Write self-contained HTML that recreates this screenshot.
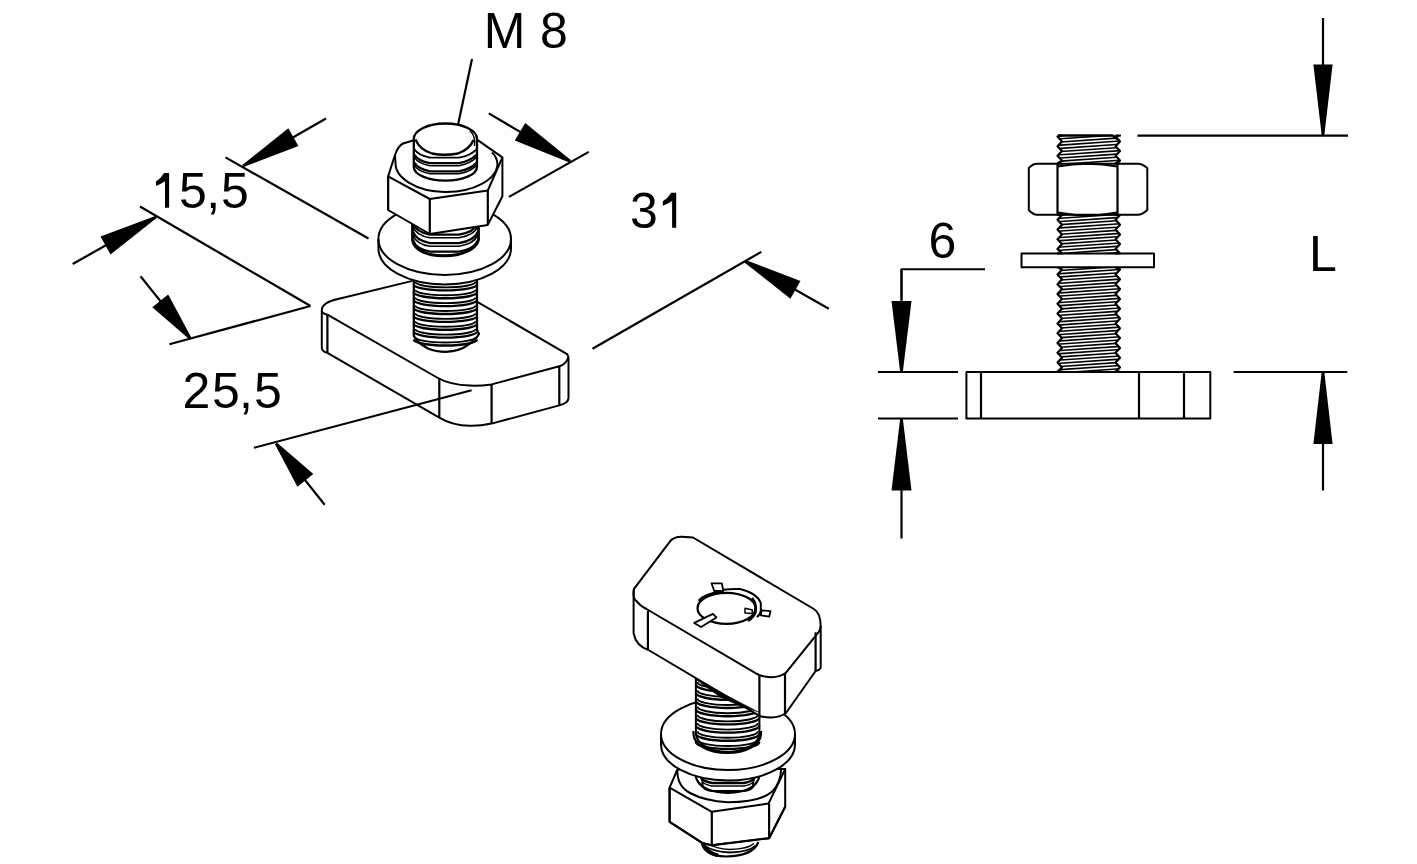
<!DOCTYPE html>
<html><head><meta charset="utf-8"><style>
html,body{margin:0;padding:0;background:#fff;}
svg{display:block;font-family:"Liberation Sans",sans-serif;}
</style></head><body>
<svg width="1417" height="864" viewBox="0 0 1417 864" stroke="#000" fill="none" stroke-linecap="butt" stroke-linejoin="round">
<text x="483.8" y="48" font-size="50" stroke="none" fill="#000">M</text>
<text x="540.1" y="48" font-size="50" stroke="none" fill="#000">8</text>
<text x="179" y="208" font-size="50" stroke="none" fill="#000">5</text>
<text x="206.2" y="208" font-size="50" stroke="none" fill="#000">,</text>
<text x="221" y="208" font-size="50" stroke="none" fill="#000">5</text>
<text x="182.4" y="408" font-size="50" stroke="none" fill="#000">2</text>
<text x="211.9" y="408" font-size="50" stroke="none" fill="#000">5</text>
<text x="239" y="408" font-size="50" stroke="none" fill="#000">,</text>
<text x="253.9" y="408" font-size="50" stroke="none" fill="#000">5</text>
<text x="629.9" y="228" font-size="50" stroke="none" fill="#000">3</text>
<text x="928.5" y="258" font-size="50" stroke="none" fill="#000">6</text>
<text x="1309" y="271" font-size="50" stroke="none" fill="#000">L</text>
<path d="M169.1,173.1 L169.1,207.7 L165.0,207.7 L165.0,181.2 Q160,184.5 156,185.9 L156,181.4 Q161.1,178.3 164.1,173.1 Z" stroke="none" fill="#000"/>
<path d="M676.2,192.8 L676.2,227.8 L672.1,227.8 L672.1,201.0 Q666.8,204.4 662.8,205.8 L662.8,201.2 Q668.2,198.1 671.2,192.8 Z" stroke="none" fill="#000"/>
<line x1="326" y1="118.5" x2="243" y2="166" stroke-width="2.2"/>
<polygon points="243.6,167.1 298.4,146.0 288.3,128.3 242.4,164.9" stroke="none" fill="#000"/>
<line x1="225.5" y1="157.4" x2="368.5" y2="238.5" stroke-width="2.2"/>
<line x1="72.7" y1="264" x2="156" y2="217" stroke-width="2.2"/>
<polygon points="155.4,215.9 100.5,236.6 110.5,254.4 156.6,218.1" stroke="none" fill="#000"/>
<line x1="140" y1="206.5" x2="310.5" y2="306" stroke-width="2.2"/>
<line x1="310.5" y1="306" x2="169.4" y2="344.2" stroke-width="2.2"/>
<line x1="140.5" y1="276.3" x2="190.3" y2="338.4" stroke-width="2.2"/>
<polygon points="191.3,337.6 168.2,294.6 152.3,307.3 189.3,339.2" stroke="none" fill="#000"/>
<line x1="324.7" y1="504.7" x2="276.1" y2="443.6" stroke-width="2.2"/>
<polygon points="275.1,444.4 297.4,486.7 313.3,474.0 277.1,442.8" stroke="none" fill="#000"/>
<line x1="488.8" y1="113.4" x2="570" y2="161.2" stroke-width="2.2"/>
<polygon points="570.7,160.1 525.2,123.0 514.8,140.6 569.3,162.4" stroke="none" fill="#000"/>
<line x1="509" y1="196.9" x2="588.75" y2="151.9" stroke-width="2.2"/>
<line x1="828.8" y1="308.8" x2="745" y2="261.2" stroke-width="2.2"/>
<polygon points="744.4,262.4 790.4,298.7 800.5,281.0 745.6,260.1" stroke="none" fill="#000"/>
<line x1="592.5" y1="348.75" x2="761.25" y2="251.9" stroke-width="2.2"/>
<line x1="472" y1="59" x2="458" y2="125" stroke-width="2.2"/>
<path d="M412.4,280.9 L338,299 Q323,302 321.8,309.5 L321.8,347.7 Q322,351.5 327.4,352.9 L438.4,417.1 Q452,425.5 470,425.8 Q480,426 491.6,423.6 L559.3,405.4 Q568.5,403 568.5,398 L568.5,358 Q568.3,355.5 567.1,354.2 L477.7,302.1" stroke-width="2" fill="#fff"/>
<path d="M321.8,311.2 Q322.5,313.5 327.4,314.7 L437,377.5 Q450,385 470,385.6 Q480,386 491.6,384.4 L559.3,366.2 Q566,364.5 568.5,357" stroke-width="2" fill="none"/>
<line x1="327.4" y1="314.7" x2="327.4" y2="352.9" stroke-width="2.2"/>
<line x1="439.3" y1="379" x2="439.3" y2="417.6" stroke-width="2.2"/>
<line x1="491.6" y1="384.9" x2="491.6" y2="423.6" stroke-width="2.2"/>
<line x1="559.3" y1="366.2" x2="559.3" y2="405.4" stroke-width="2.2"/>
<line x1="253.9" y1="447.8" x2="471.6" y2="390.3" stroke-width="2.2"/>
<path d="M413.8,270 L413.8,335.6 Q415.8,342 428,348.5 Q436,351.8 445.7,351.8 Q460,351 468,344.8 Q476,340 479,333.7 L477,330 L477,270 Z" stroke-width="2.3" fill="#fff"/>
<path d="M413.8,339.5 A31.6,6 0 0 0 477,339.5" stroke-width="2.4" fill="none"/>
<path d="M415.3,336.9 A30,5.6 0 0 0 475.5,336.9" stroke-width="1.9" fill="none"/>
<path d="M413.8,331.6 A31.6,6 0 0 0 477,331.6" stroke-width="2.4" fill="none"/>
<path d="M415.3,329.0 A30,5.6 0 0 0 475.5,329.0" stroke-width="1.9" fill="none"/>
<path d="M413.8,323.8 A31.6,6 0 0 0 477,323.8" stroke-width="2.4" fill="none"/>
<path d="M415.3,321.2 A30,5.6 0 0 0 475.5,321.2" stroke-width="1.9" fill="none"/>
<path d="M413.8,315.9 A31.6,6 0 0 0 477,315.9" stroke-width="2.4" fill="none"/>
<path d="M415.3,313.3 A30,5.6 0 0 0 475.5,313.3" stroke-width="1.9" fill="none"/>
<path d="M413.8,308.0 A31.6,6 0 0 0 477,308.0" stroke-width="2.4" fill="none"/>
<path d="M415.3,305.4 A30,5.6 0 0 0 475.5,305.4" stroke-width="1.9" fill="none"/>
<path d="M413.8,300.1 A31.6,6 0 0 0 477,300.1" stroke-width="2.4" fill="none"/>
<path d="M415.3,297.5 A30,5.6 0 0 0 475.5,297.5" stroke-width="1.9" fill="none"/>
<path d="M413.8,292.3 A31.6,6 0 0 0 477,292.3" stroke-width="2.4" fill="none"/>
<path d="M415.3,289.7 A30,5.6 0 0 0 475.5,289.7" stroke-width="1.9" fill="none"/>
<path d="M413.8,284.4 A31.6,6 0 0 0 477,284.4" stroke-width="2.4" fill="none"/>
<path d="M415.3,281.8 A30,5.6 0 0 0 475.5,281.8" stroke-width="1.9" fill="none"/>
<path d="M413.8,276.5 A31.6,6 0 0 0 477,276.5" stroke-width="2.4" fill="none"/>
<path d="M415.3,273.9 A30,5.6 0 0 0 475.5,273.9" stroke-width="1.9" fill="none"/>
<path d="M378.4,239 A66.3,36 0 0 1 511.0,239 L511.0,248.5 A66.3,36 0 0 1 378.4,248.5 Z" stroke-width="2" fill="#fff"/>
<path d="M378.4,239 A66.3,36 0 0 0 511.0,239" stroke-width="2" fill="none"/>
<path d="M412.5,222 L412.5,240 Q414,250 430,254.5 Q444,257 458,254.5 Q476,250 478.5,240 L478.5,222" stroke-width="2.8" fill="#fff"/>
<path d="M413,223.2 Q416,232.2 430,234.6 L459,234.6 Q474,232.2 478,223.2" stroke-width="2.3" fill="none"/>
<path d="M413,226.4 Q416,235.4 430,237.8 L459,237.8 Q474,235.4 478,226.4" stroke-width="1.6" fill="none"/>
<path d="M413,231.7 Q416,240.7 430,243.1 L459,243.1 Q474,240.7 478,231.7" stroke-width="2.3" fill="none"/>
<path d="M413,234.9 Q416,243.9 430,246.3 L459,246.3 Q474,243.9 478,234.9" stroke-width="1.6" fill="none"/>
<path d="M413,240.2 Q416,249.2 430,251.6 L459,251.6 Q474,249.2 478,240.2" stroke-width="2.2" fill="none"/>
<path d="M388.1,176.4 L395,155 Q398,146 403.1,143.5 L414.7,140 L477,139.6 L502.4,157.4 L502.4,196.2 L487.8,224.9 L429.8,234 L388.1,210 Z" stroke-width="2" fill="#fff"/>
<path d="M395.5,162 A51,29 0 0 0 497.5,164" stroke-width="2" fill="none"/>
<path d="M395,155 Q395,158 395.5,162" stroke-width="2" fill="none"/>
<path d="M497.5,164 Q497,157 492,152.5" stroke-width="2" fill="none"/>
<path d="M388.1,176.4 L429.8,199 L487.8,190.5 L502.4,157.4" stroke-width="2" fill="none"/>
<line x1="388.1" y1="176.4" x2="388.1" y2="210" stroke-width="2.2"/>
<line x1="429.8" y1="199" x2="429.8" y2="234" stroke-width="2.2"/>
<line x1="487.8" y1="190.5" x2="487.8" y2="224.9" stroke-width="2.2"/>
<path d="M413.8,139 L413.8,166.9 A31.6,13.7 0 0 0 477,166.9 L477,139 A31.6,15.5 0 0 0 413.8,139 Z" stroke-width="2.3" fill="#fff"/>
<path d="M415.4,139.5 Q420,150 432,153.5 Q444,156 458,153.5 Q470,149 473.5,140" stroke-width="2.3" fill="none"/>
<path d="M470,131 Q476,136 474.5,146" stroke-width="1.4" fill="none"/>
<path d="M414.5,149.3 Q418,155.3 430,157.7 L459,157.7 Q471,155.3 476.5,149.3" stroke-width="1.8" fill="none"/>
<path d="M414.5,154.8 Q418,160.8 430,163.2 L459,163.2 Q471,160.8 476.5,154.8" stroke-width="2.3" fill="none"/>
<path d="M414.5,157.3 Q418,163.3 430,165.7 L459,165.7 Q471,163.3 476.5,157.3" stroke-width="1.6" fill="none"/>
<path d="M414.5,162.9 Q418,168.9 430,171.3 L459,171.3 Q471,168.9 476.5,162.9" stroke-width="2.3" fill="none"/>
<path d="M414.5,165.4 Q418,171.4 430,173.8 L459,173.8 Q471,171.4 476.5,165.4" stroke-width="1.6" fill="none"/>
<path d="M701.7,842 Q704,856 726,856.5 Q753,856 758.4,842" stroke-width="2.2" fill="#fff"/>
<path d="M704,845.5 Q714,852 730,852.5 Q749,852 756,845.5" stroke-width="1.8" fill="none"/>
<path d="M706,843 Q716,849 730,849.5 Q748,849 754,843.5" stroke-width="1.4" fill="none"/>
<path d="M702.5,842.5 Q705,852 718,855.5" stroke-width="3.8" fill="none"/>
<path d="M669.6,787.7 L677.4,769.5 L785.2,769 L785.2,806.7 L769.1,838.2 L711.8,845.2 L702.9,843.3 L669.6,821.8 Z" stroke-width="2" fill="#fff"/>
<path d="M669.6,787.7 L711.8,811.8 L768.5,803.6 L785.2,769" stroke-width="2" fill="none"/>
<path d="M677.4,770 Q677,786 690,793 Q705,801 728,802.3 Q760,802 772.3,791.6 Q781,782 781.1,769.5" stroke-width="2" fill="none"/>
<line x1="669.6" y1="787.7" x2="669.6" y2="821.8" stroke-width="2.2"/>
<line x1="711.8" y1="811.8" x2="711.8" y2="845.2" stroke-width="2.2"/>
<line x1="769.1" y1="803.6" x2="769.1" y2="838.2" stroke-width="2.2"/>
<path d="M669.6,821.8 L702.9,843.3 L711.8,845.2 L769.1,838.2 L785.2,806.7" stroke-width="2" fill="none"/>
<path d="M695.6,768 L695.6,776 Q699,792 728,793 Q756,792 759.5,776 L759.5,768 Z" stroke-width="2.2" fill="#fff"/>
<path d="M698.0,766 Q700,773 712,775 L744,775 Q756,773 757.5,766" stroke-width="2.4" fill="none"/>
<path d="M699.2,769 Q700,776 712,778 L744,778 Q756,776 756.3,769" stroke-width="1.5" fill="none"/>
<path d="M700.4,774 Q700,781 712,783 L744,783 Q756,781 755.1,774" stroke-width="2.4" fill="none"/>
<path d="M701.6,777 Q700,784 712,786 L744,786 Q756,784 753.9,777" stroke-width="1.5" fill="none"/>
<path d="M702.8,782 Q700,789 712,791 L744,791 Q756,789 752.7,782" stroke-width="2.2" fill="none"/>
<path d="M661,734 A67,36 0 0 1 795,734 L795,744.5 A67,36 0 0 1 661,744.5 Z" stroke-width="2" fill="#fff"/>
<path d="M661,734 A67,36 0 0 0 795,734" stroke-width="2" fill="none"/>
<path d="M695.9,660 L695.9,733 A31.75,19 0 0 0 759.4,733 L759.4,660 Z" stroke-width="2" fill="#fff"/>
<path d="M695.9,742.0 A31.75,7 0 0 0 759.4,742.0" stroke-width="2.4" fill="none"/>
<path d="M697.4,739.4 A30.2,6.6 0 0 0 757.9,739.4" stroke-width="1.9" fill="none"/>
<path d="M695.9,733.8 A31.75,7 0 0 0 759.4,733.8" stroke-width="2.4" fill="none"/>
<path d="M697.4,731.2 A30.2,6.6 0 0 0 757.9,731.2" stroke-width="1.9" fill="none"/>
<path d="M695.9,725.6 A31.75,7 0 0 0 759.4,725.6" stroke-width="2.4" fill="none"/>
<path d="M697.4,723.0 A30.2,6.6 0 0 0 757.9,723.0" stroke-width="1.9" fill="none"/>
<path d="M695.9,717.4 A31.75,7 0 0 0 759.4,717.4" stroke-width="2.4" fill="none"/>
<path d="M697.4,714.8 A30.2,6.6 0 0 0 757.9,714.8" stroke-width="1.9" fill="none"/>
<path d="M695.9,709.2 A31.75,7 0 0 0 759.4,709.2" stroke-width="2.4" fill="none"/>
<path d="M697.4,706.6 A30.2,6.6 0 0 0 757.9,706.6" stroke-width="1.9" fill="none"/>
<path d="M695.9,701.0 A31.75,7 0 0 0 759.4,701.0" stroke-width="2.4" fill="none"/>
<path d="M697.4,698.4 A30.2,6.6 0 0 0 757.9,698.4" stroke-width="1.9" fill="none"/>
<path d="M695.9,692.8 A31.75,7 0 0 0 759.4,692.8" stroke-width="2.4" fill="none"/>
<path d="M697.4,690.2 A30.2,6.6 0 0 0 757.9,690.2" stroke-width="1.9" fill="none"/>
<path d="M695.9,684.6 A31.75,7 0 0 0 759.4,684.6" stroke-width="2.4" fill="none"/>
<path d="M697.4,682.0 A30.2,6.6 0 0 0 757.9,682.0" stroke-width="1.9" fill="none"/>
<path d="M695.9,676.4 A31.75,7 0 0 0 759.4,676.4" stroke-width="2.4" fill="none"/>
<path d="M697.4,673.8 A30.2,6.6 0 0 0 757.9,673.8" stroke-width="1.9" fill="none"/>
<path d="M695.9,668.2 A31.75,7 0 0 0 759.4,668.2" stroke-width="2.4" fill="none"/>
<path d="M697.4,665.6 A30.2,6.6 0 0 0 757.9,665.6" stroke-width="1.9" fill="none"/>
<path d="M693.5,731 L693.5,734 A33.75,19 0 0 0 761,734 L761,731" stroke-width="2.2" fill="none"/>
<path d="M693,537.5 L813.9,609 Q820.5,613 820.7,626 L820.7,667.3 Q820.3,670 815.6,671 L786,713 Q779,717.5 771.9,717.5 Q764,717.5 759.1,715.7 L648.5,650 Q636,646 633.6,633.3 L633.6,591.7 Q633.8,589.5 634,588.9 L670.8,540.3 Q675,536.5 682,536.7 L693,537.5 Z" stroke-width="2" fill="#fff"/>
<path d="M696,679.5 L758.5,712 L740,706 L720,697 Z" stroke-width="0.5" fill="#000"/>
<path d="M634,588.9 Q632.5,598 636.1,600.7 Q640,606 646.5,609 L756.4,673.6 Q761,676.8 771,677.2 Q780,677 786,672.7 L819.2,631.4 Q820.5,628 820.7,626" stroke-width="2" fill="none"/>
<line x1="647.9" y1="611" x2="647.9" y2="649.5" stroke-width="2.2"/>
<line x1="759.4" y1="675.4" x2="759.4" y2="715.7" stroke-width="2.2"/>
<line x1="785" y1="673.5" x2="785" y2="713.4" stroke-width="2.2"/>
<line x1="815.6" y1="632.3" x2="815.6" y2="671" stroke-width="2.2"/>
<path d="M697.5,608.3 A29,15.5 0 1 0 755.5,608.3 A29,15.5 0 1 0 697.5,608.3 Z" stroke-width="2.2" fill="none"/>
<path d="M699,601 Q705,594 722,592" stroke-width="3" fill="none"/>
<path d="M714,591.5 Q724,588.5 740,589 Q757,593 760.8,603 L760.8,611 Q760,615 756.7,617" stroke-width="2" fill="none"/>
<path d="M752,598 Q757,604 755.5,612 Q754,617 748,621" stroke-width="2.6" fill="none"/>
<path d="M711.5,583.3 L721.9,583.3 L723.3,591 L714.3,591 Z" stroke-width="1.8" fill="#fff"/>
<path d="M761.5,610.4 L770.6,611.1 L769.2,616.7 L760.8,615.3 Z" stroke-width="1.8" fill="#fff"/>
<path d="M694.2,622.9 L712.9,613.9 L716.4,617.4 L701.1,627.1 Z" stroke-width="1.8" fill="#fff"/>
<path d="M745,608.3 L752.5,610 L752,613.5 L745,613 Z" stroke-width="1.5" fill="#fff"/>
<line x1="1323" y1="18" x2="1323" y2="135.5" stroke-width="2.2"/>
<polygon points="1324.3,135.5 1332.6,64.5 1313.4,64.5 1321.7,135.5" stroke="none" fill="#000"/>
<line x1="1137.5" y1="135.7" x2="1348" y2="135.7" stroke-width="2.2"/>
<line x1="1233.6" y1="372" x2="1347.3" y2="372" stroke-width="2.2"/>
<line x1="1323" y1="490.5" x2="1323" y2="372" stroke-width="2.2"/>
<polygon points="1321.7,372.0 1313.4,444.0 1332.6,444.0 1324.3,372.0" stroke="none" fill="#000"/>
<line x1="878" y1="372" x2="958" y2="372" stroke-width="2.2"/>
<line x1="878" y1="418.5" x2="958" y2="418.5" stroke-width="2.2"/>
<path d="M985,269.2 H901.5 V300" stroke-width="2" fill="none"/>
<line x1="901.5" y1="269.2" x2="901.5" y2="372" stroke-width="2.2"/>
<polygon points="902.8,372.0 911.5,301.0 891.5,301.0 900.2,372.0" stroke="none" fill="#000"/>
<line x1="901.5" y1="538.5" x2="901.5" y2="418.5" stroke-width="2.2"/>
<polygon points="900.2,418.5 891.5,490.5 911.5,490.5 902.8,418.5" stroke="none" fill="#000"/>
<path d="M966.4,372 H1210.3 V418.5 H966.4 Z" stroke-width="2" fill="none"/>
<line x1="981" y1="372" x2="981" y2="418.5" stroke-width="2.2"/>
<line x1="1139" y1="372" x2="1139" y2="418.5" stroke-width="2.2"/>
<line x1="1184" y1="372" x2="1184" y2="418.5" stroke-width="2.2"/>
<path d="M1021.5,253.4 H1154 V267.2 H1021.5 Z" stroke-width="2" fill="none"/>
<path d="M1037,163.8 H1138 Q1142,163.8 1147.3,168 V210 Q1142,214.8 1138,214.8 H1037 Q1033,214.8 1028.8,210 V168 Q1033,163.8 1037,163.8 Z" stroke-width="2" fill="#fff"/>
<line x1="1057.5" y1="163.5" x2="1057.5" y2="215.4" stroke-width="2.2"/>
<line x1="1117.5" y1="163.5" x2="1117.5" y2="215.4" stroke-width="2.2"/>
<path d="M1057.5,166.5 Q1087.5,161 1117.5,166.5" stroke-width="2" fill="none"/>
<path d="M1057.5,212.5 Q1087.5,218 1117.5,212.5" stroke-width="2" fill="none"/>
<clipPath id="st0"><path d="M1057.5,135.5 L1062.0,135.5 L1057.5,136.6 L1062.0,141.4 L1057.5,146.2 L1062.0,151.0 L1057.5,155.8 L1062.0,160.6 L1057.5,163.5 L1062.0,163.5 L1120.0,163.5 L1115.5,163.5 L1120.0,160.6 L1115.5,155.8 L1120.0,151.0 L1115.5,146.2 L1120.0,141.4 L1115.5,136.6 L1120.0,135.5 L1115.5,135.5 Z"/></clipPath>
<g clip-path="url(#st0)"><line x1="1055.5" y1="129.50" x2="1122" y2="124.90" stroke-width="1.6"/><line x1="1055.5" y1="132.70" x2="1122" y2="128.10" stroke-width="1.6"/><line x1="1055.5" y1="135.90" x2="1122" y2="131.30" stroke-width="1.6"/><line x1="1055.5" y1="139.10" x2="1122" y2="134.50" stroke-width="1.6"/><line x1="1055.5" y1="142.30" x2="1122" y2="137.70" stroke-width="1.6"/><line x1="1055.5" y1="145.50" x2="1122" y2="140.90" stroke-width="1.6"/><line x1="1055.5" y1="148.70" x2="1122" y2="144.10" stroke-width="1.6"/><line x1="1055.5" y1="151.90" x2="1122" y2="147.30" stroke-width="1.6"/><line x1="1055.5" y1="155.10" x2="1122" y2="150.50" stroke-width="1.6"/><line x1="1055.5" y1="158.30" x2="1122" y2="153.70" stroke-width="1.6"/><line x1="1055.5" y1="161.50" x2="1122" y2="156.90" stroke-width="1.6"/><line x1="1055.5" y1="164.70" x2="1122" y2="160.10" stroke-width="1.6"/><line x1="1055.5" y1="167.90" x2="1122" y2="163.30" stroke-width="1.6"/><line x1="1055.5" y1="171.10" x2="1122" y2="166.50" stroke-width="1.6"/></g>
<path d="M1057.5,135.5 L1062.0,135.5 L1057.5,136.6 L1062.0,141.4 L1057.5,146.2 L1062.0,151.0 L1057.5,155.8 L1062.0,160.6 L1057.5,163.5 L1062.0,163.5" stroke-width="2.2" fill="none"/>
<path d="M1115.5,135.5 L1120.0,135.5 L1115.5,136.6 L1120.0,141.4 L1115.5,146.2 L1120.0,151.0 L1115.5,155.8 L1120.0,160.6 L1115.5,163.5 L1120.0,163.5" stroke-width="2.2" fill="none"/>
<clipPath id="st1"><path d="M1057.5,215.0 L1062.0,215.0 L1057.5,219.8 L1062.0,224.7 L1057.5,229.5 L1062.0,234.4 L1057.5,239.2 L1062.0,244.1 L1057.5,248.9 L1062.0,253.4 L1057.5,253.4 L1062.0,253.4 L1120.0,253.4 L1115.5,253.4 L1120.0,253.4 L1115.5,248.9 L1120.0,244.1 L1115.5,239.2 L1120.0,234.4 L1115.5,229.5 L1120.0,224.7 L1115.5,219.8 L1120.0,215.0 L1115.5,215.0 Z"/></clipPath>
<g clip-path="url(#st1)"><line x1="1055.5" y1="209.00" x2="1122" y2="204.40" stroke-width="1.6"/><line x1="1055.5" y1="212.20" x2="1122" y2="207.60" stroke-width="1.6"/><line x1="1055.5" y1="215.40" x2="1122" y2="210.80" stroke-width="1.6"/><line x1="1055.5" y1="218.60" x2="1122" y2="214.00" stroke-width="1.6"/><line x1="1055.5" y1="221.80" x2="1122" y2="217.20" stroke-width="1.6"/><line x1="1055.5" y1="225.00" x2="1122" y2="220.40" stroke-width="1.6"/><line x1="1055.5" y1="228.20" x2="1122" y2="223.60" stroke-width="1.6"/><line x1="1055.5" y1="231.40" x2="1122" y2="226.80" stroke-width="1.6"/><line x1="1055.5" y1="234.60" x2="1122" y2="230.00" stroke-width="1.6"/><line x1="1055.5" y1="237.80" x2="1122" y2="233.20" stroke-width="1.6"/><line x1="1055.5" y1="241.00" x2="1122" y2="236.40" stroke-width="1.6"/><line x1="1055.5" y1="244.20" x2="1122" y2="239.60" stroke-width="1.6"/><line x1="1055.5" y1="247.40" x2="1122" y2="242.80" stroke-width="1.6"/><line x1="1055.5" y1="250.60" x2="1122" y2="246.00" stroke-width="1.6"/><line x1="1055.5" y1="253.80" x2="1122" y2="249.20" stroke-width="1.6"/><line x1="1055.5" y1="257.00" x2="1122" y2="252.40" stroke-width="1.6"/><line x1="1055.5" y1="260.20" x2="1122" y2="255.60" stroke-width="1.6"/></g>
<path d="M1057.5,215.0 L1062.0,215.0 L1057.5,219.8 L1062.0,224.7 L1057.5,229.5 L1062.0,234.4 L1057.5,239.2 L1062.0,244.1 L1057.5,248.9 L1062.0,253.4 L1057.5,253.4 L1062.0,253.4" stroke-width="2.2" fill="none"/>
<path d="M1115.5,215.0 L1120.0,215.0 L1115.5,219.8 L1120.0,224.7 L1115.5,229.5 L1120.0,234.4 L1115.5,239.2 L1120.0,244.1 L1115.5,248.9 L1120.0,253.4 L1115.5,253.4 L1120.0,253.4" stroke-width="2.2" fill="none"/>
<clipPath id="st2"><path d="M1057.5,267.2 L1062.0,269.5 L1057.5,274.4 L1062.0,279.3 L1057.5,284.2 L1062.0,289.1 L1057.5,294.0 L1062.0,298.9 L1057.5,303.8 L1062.0,308.7 L1057.5,313.6 L1062.0,318.5 L1057.5,323.4 L1062.0,328.3 L1057.5,333.2 L1062.0,338.1 L1057.5,343.0 L1062.0,347.9 L1057.5,352.8 L1062.0,357.7 L1057.5,362.6 L1062.0,367.5 L1057.5,371.5 L1062.0,371.5 L1120.0,371.5 L1115.5,371.5 L1120.0,367.5 L1115.5,362.6 L1120.0,357.7 L1115.5,352.8 L1120.0,347.9 L1115.5,343.0 L1120.0,338.1 L1115.5,333.2 L1120.0,328.3 L1115.5,323.4 L1120.0,318.5 L1115.5,313.6 L1120.0,308.7 L1115.5,303.8 L1120.0,298.9 L1115.5,294.0 L1120.0,289.1 L1115.5,284.2 L1120.0,279.3 L1115.5,274.4 L1120.0,269.5 L1115.5,267.2 Z"/></clipPath>
<g clip-path="url(#st2)"><line x1="1055.5" y1="261.20" x2="1122" y2="256.60" stroke-width="1.6"/><line x1="1055.5" y1="264.40" x2="1122" y2="259.80" stroke-width="1.6"/><line x1="1055.5" y1="267.60" x2="1122" y2="263.00" stroke-width="1.6"/><line x1="1055.5" y1="270.80" x2="1122" y2="266.20" stroke-width="1.6"/><line x1="1055.5" y1="274.00" x2="1122" y2="269.40" stroke-width="1.6"/><line x1="1055.5" y1="277.20" x2="1122" y2="272.60" stroke-width="1.6"/><line x1="1055.5" y1="280.40" x2="1122" y2="275.80" stroke-width="1.6"/><line x1="1055.5" y1="283.60" x2="1122" y2="279.00" stroke-width="1.6"/><line x1="1055.5" y1="286.80" x2="1122" y2="282.20" stroke-width="1.6"/><line x1="1055.5" y1="290.00" x2="1122" y2="285.40" stroke-width="1.6"/><line x1="1055.5" y1="293.20" x2="1122" y2="288.60" stroke-width="1.6"/><line x1="1055.5" y1="296.40" x2="1122" y2="291.80" stroke-width="1.6"/><line x1="1055.5" y1="299.60" x2="1122" y2="295.00" stroke-width="1.6"/><line x1="1055.5" y1="302.80" x2="1122" y2="298.20" stroke-width="1.6"/><line x1="1055.5" y1="306.00" x2="1122" y2="301.40" stroke-width="1.6"/><line x1="1055.5" y1="309.20" x2="1122" y2="304.60" stroke-width="1.6"/><line x1="1055.5" y1="312.40" x2="1122" y2="307.80" stroke-width="1.6"/><line x1="1055.5" y1="315.60" x2="1122" y2="311.00" stroke-width="1.6"/><line x1="1055.5" y1="318.80" x2="1122" y2="314.20" stroke-width="1.6"/><line x1="1055.5" y1="322.00" x2="1122" y2="317.40" stroke-width="1.6"/><line x1="1055.5" y1="325.20" x2="1122" y2="320.60" stroke-width="1.6"/><line x1="1055.5" y1="328.40" x2="1122" y2="323.80" stroke-width="1.6"/><line x1="1055.5" y1="331.60" x2="1122" y2="327.00" stroke-width="1.6"/><line x1="1055.5" y1="334.80" x2="1122" y2="330.20" stroke-width="1.6"/><line x1="1055.5" y1="338.00" x2="1122" y2="333.40" stroke-width="1.6"/><line x1="1055.5" y1="341.20" x2="1122" y2="336.60" stroke-width="1.6"/><line x1="1055.5" y1="344.40" x2="1122" y2="339.80" stroke-width="1.6"/><line x1="1055.5" y1="347.60" x2="1122" y2="343.00" stroke-width="1.6"/><line x1="1055.5" y1="350.80" x2="1122" y2="346.20" stroke-width="1.6"/><line x1="1055.5" y1="354.00" x2="1122" y2="349.40" stroke-width="1.6"/><line x1="1055.5" y1="357.20" x2="1122" y2="352.60" stroke-width="1.6"/><line x1="1055.5" y1="360.40" x2="1122" y2="355.80" stroke-width="1.6"/><line x1="1055.5" y1="363.60" x2="1122" y2="359.00" stroke-width="1.6"/><line x1="1055.5" y1="366.80" x2="1122" y2="362.20" stroke-width="1.6"/><line x1="1055.5" y1="370.00" x2="1122" y2="365.40" stroke-width="1.6"/><line x1="1055.5" y1="373.20" x2="1122" y2="368.60" stroke-width="1.6"/><line x1="1055.5" y1="376.40" x2="1122" y2="371.80" stroke-width="1.6"/></g>
<path d="M1057.5,267.2 L1062.0,269.5 L1057.5,274.4 L1062.0,279.3 L1057.5,284.2 L1062.0,289.1 L1057.5,294.0 L1062.0,298.9 L1057.5,303.8 L1062.0,308.7 L1057.5,313.6 L1062.0,318.5 L1057.5,323.4 L1062.0,328.3 L1057.5,333.2 L1062.0,338.1 L1057.5,343.0 L1062.0,347.9 L1057.5,352.8 L1062.0,357.7 L1057.5,362.6 L1062.0,367.5 L1057.5,371.5 L1062.0,371.5" stroke-width="2.2" fill="none"/>
<path d="M1115.5,267.2 L1120.0,269.5 L1115.5,274.4 L1120.0,279.3 L1115.5,284.2 L1120.0,289.1 L1115.5,294.0 L1120.0,298.9 L1115.5,303.8 L1120.0,308.7 L1115.5,313.6 L1120.0,318.5 L1115.5,323.4 L1120.0,328.3 L1115.5,333.2 L1120.0,338.1 L1115.5,343.0 L1120.0,347.9 L1115.5,352.8 L1120.0,357.7 L1115.5,362.6 L1120.0,367.5 L1115.5,371.5 L1120.0,371.5" stroke-width="2.2" fill="none"/>
<path d="M1058.5,135.5 L1112.5,135.5 L1118,139.5" stroke-width="2.4" fill="none"/>
</svg></body></html>
